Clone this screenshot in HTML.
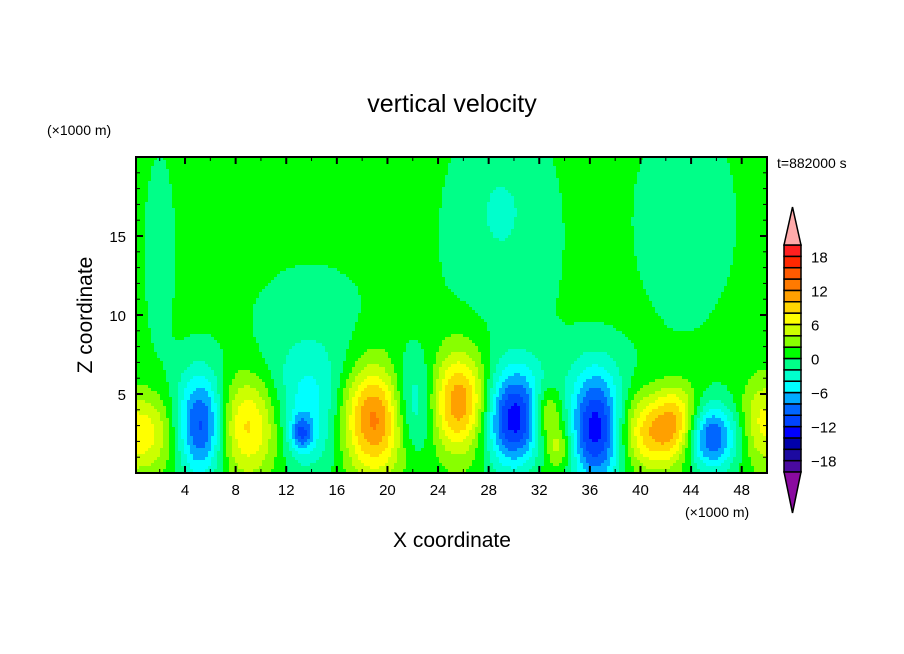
<!DOCTYPE html>
<html><head><meta charset="utf-8"><style>
body{margin:0;background:#fff;width:904px;height:654px;overflow:hidden}
svg{display:block}
text{font-family:"Liberation Sans",sans-serif;fill:#000}
</style></head><body>
<svg id="chart" width="904" height="654">
<g id="field"></g>
<g id="axes"></g>
<g id="cbar"></g>
<text x="452" y="112" text-anchor="middle" font-size="25">vertical velocity</text>
<text x="47" y="135" font-size="14">(×1000 m)</text>
<text x="777" y="168" font-size="14">t=882000 s</text>
<text x="685" y="517" font-size="14">(×1000 m)</text>
<text x="452" y="547" text-anchor="middle" font-size="21">X coordinate</text>
<text x="92" y="315" text-anchor="middle" font-size="21" transform="rotate(-90 92 315)">Z coordinate</text>
</svg>
<script>
// blob data (x km, z km, amplitude m/s, sigma x, sigma z)
const blobX  =[0.3, 5.3, 9.0, 13.5,13.2,19.0,22.0,25.7,30.0,32.6,33.6,36.5,41.0,43.0,45.5,49.8, 2.0,14.0,29.0,29.0,43.5, 25, 33, 41];
const blobZ  =[2.5, 3.0, 3.0, 3.5, 2.5, 3.5, 4.0, 4.6, 3.4, 3.8, 1.6, 2.8, 2.5, 3.3, 2.3, 3.2,14.0, 9.0,15.0,16.5,16.0, 6.5, 2, 3];
const blobAmp=[ 7, -13,  9, -6,  -7,  13,  -7,  12, -14,  6,   4,  -15, 7,   6,  -12,  6,  -1.5,-1.6,-1.6,-2.5,-1.5,-1.0, 2, 2];
const blobSx =[2.2, 1.4, 2.1, 2.4, 0.6, 1.9, 1.4, 1.7, 1.7, 0.8, 0.7, 1.5, 1.9, 1.2, 1.5, 1.3, 0.9, 3.5, 3.5, 0.9, 3.0, 12, 1.5, 4];
const blobSz =[1.8, 2.3, 2.3, 2.5, 0.8, 2.5, 2.1, 2.3, 2.1, 1.2, 0.9, 2.5, 1.6, 1.6, 1.5, 2.0, 4.5, 3.0, 6.0, 1.3, 5.0, 1.5, 2, 2];
const levels=[-20,-18,-16,-14,-12,-10,-8,-6,-4,-2,0,2,4,6,8,10,12,14,16,18,20];
const colors=["#8a0aa0","#4a0aa0","#1c0aa0","#0000aa","#0000ff","#0044ff","#0066ff","#00aaff","#00ffff","#00ffcc","#00ff88","#00ff00","#88ff00","#ccff00","#ffff00","#ffd500","#ffa000","#ff7a00","#ff5a00","#ff2800","#ff2020","#ffaaaa"];
const xTicks=[4,8,12,16,20,24,28,32,36,40,44,48];
const yTicks=[5,10,15];
const cbLabels=[18,12,6,0,-6,-12,-18];

const NS="http://www.w3.org/2000/svg";
const L=136,R=767,T=157,B=473,X0=0.125,X1=50,Z0=0,Z1=20;
const sx=x=>L+(x-X0)/(X1-X0)*(R-L);
const sz=z=>B-(z-Z0)/(Z1-Z0)*(B-T);
function mk(tag,attrs,parent){const e=document.createElementNS(NS,tag);for(const k in attrs)e.setAttribute(k,attrs[k]);parent.appendChild(e);return e;}
function val(x,z){let v=0.6;for(let i=0;i<blobX.length;i++){const dx=(x-blobX[i])/blobSx[i],dz=(z-blobZ[i])/blobSz[i];v+=blobAmp[i]*Math.exp(-0.5*(dx*dx+dz*dz));}return v;}
function colorOf(v){let i=0;while(i<levels.length&&v>=levels[i])i++;return colors[i];}
const field=document.getElementById('field');
const step=3;
function run(start,end,py,c){
  const r=mk('rect',{x:start,y:py,width:end-start+0.5,height:Math.min(step,B-py)+0.5,fill:c},field);
  
  
}
for(let py=T;py<B;py+=step){
  const z=Z0+(B-(py+step/2))/(B-T)*(Z1-Z0);
  let start=L,cur=null,px;
  for(px=L;px<R;px+=step){
    const x=X0+(Math.min(px+step/2,R)-L)/(R-L)*(X1-X0);
    const c=colorOf(val(x,z));
    if(c!==cur){ if(cur) run(start,px,py,cur); cur=c; start=px; }
  }
  if(cur) run(start,R,py,cur);
}
const ax=document.getElementById('axes');
mk('rect',{x:L,y:T,width:R-L,height:B-T,fill:'none',stroke:'#000','stroke-width':2},ax);
for(let x=2;x<50;x+=2){const maj=x%4===0,len=maj?7:4;
  mk('line',{x1:sx(x),x2:sx(x),y1:B,y2:B-len,stroke:'#000','stroke-width':maj?2:1},ax);
  mk('line',{x1:sx(x),x2:sx(x),y1:T,y2:T+len,stroke:'#000','stroke-width':maj?2:1},ax);}
for(let z=1;z<20;z++){const maj=z%5===0,len=maj?7:4;
  mk('line',{x1:L,x2:L+len,y1:sz(z),y2:sz(z),stroke:'#000','stroke-width':maj?2:1},ax);
  mk('line',{x1:R,x2:R-len,y1:sz(z),y2:sz(z),stroke:'#000','stroke-width':maj?2:1},ax);}
xTicks.forEach(t=>{const e=mk('text',{x:sx(t),y:B+22,'text-anchor':'middle','font-size':15},ax);e.textContent=t;
  
  });
yTicks.forEach(t=>{const e=mk('text',{x:L-10,y:sz(t)+6,'text-anchor':'end','font-size':15},ax);e.textContent=t;
  
  });
const cb=document.getElementById('cbar');
const cL=784,cW=17,cT=245,cB=472,cx=cL+cW/2;
const bh=(cB-cT)/20;
const cy=v=>cB-(v+20)/40*(cB-cT);
for(let i=0;i<20;i++){const r=mk('rect',{x:cL,y:cy(levels[i+1]),width:cW,height:bh,fill:colors[i+1],stroke:'#000','stroke-width':1.5},cb);
  
  }
mk('polygon',{points:`${cL},${cT} ${cL+cW},${cT} ${cx},207`,fill:colors[21],stroke:'#000','stroke-width':1.5},cb);
mk('polygon',{points:`${cL},${cB} ${cL+cW},${cB} ${cx},513`,fill:colors[0],stroke:'#000','stroke-width':1.5},cb);
cbLabels.forEach(v=>{const e=mk('text',{x:811,y:cy(v)+6,'font-size':15},cb);e.textContent=v<0?'\u2212'+(-v):v;
  
  });
</script>
</body></html>
